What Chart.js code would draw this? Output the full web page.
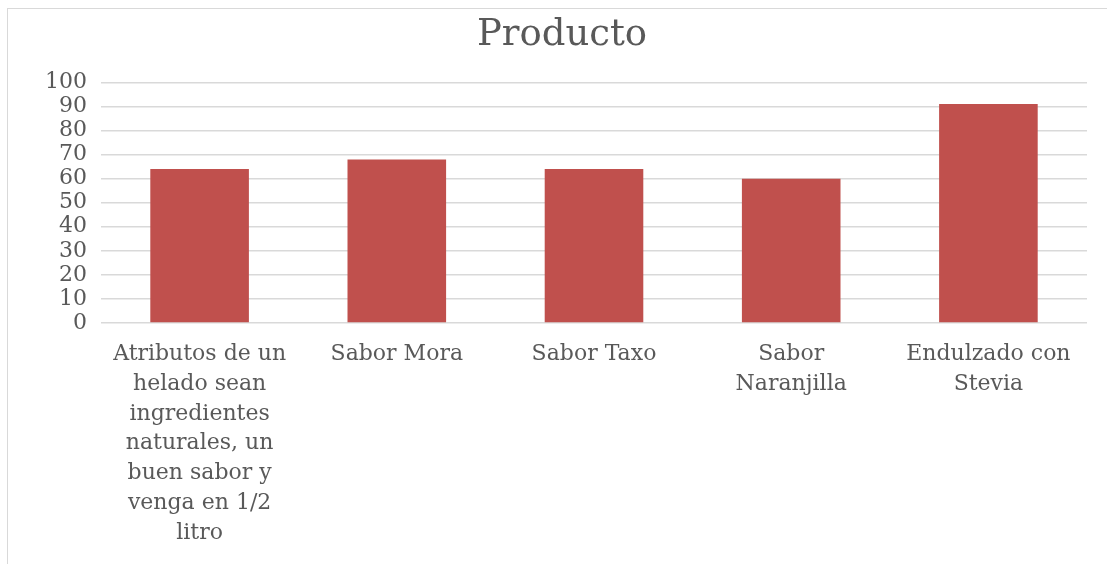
<!DOCTYPE html>
<html>
<head>
<meta charset="utf-8">
<script src="https://cdn.jsdelivr.net/npm/chart.js@4/dist/chart.umd.min.js"></script>
<style>
  body { margin: 0; background: #fff; overflow: hidden; }
  #frame { position: absolute; left: 7px; top: 8px; width: 1200px; height: 600px; border: 1px solid #d9d9d9; }
  #wrap { position: absolute; left: 0; top: 0; width: 1107px; height: 564px; }
</style>
</head>
<body>
<div id="frame"></div>
<div id="wrap"><canvas id="chart"></canvas></div>
<script>
// data
const categories = [
    ['Atributos de un', 'helado sean', 'ingredientes', 'naturales, un', 'buen sabor y', 'venga en 1/2', 'litro'],
    'Sabor Mora',
    'Sabor Taxo',
    ['Sabor', 'Naranjilla'],
    ['Endulzado con', 'Stevia']
];
const values = [64, 68, 64, 60, 91];
const yTicks = [0, 10, 20, 30, 40, 50, 60, 70, 80, 90, 100];

window.onload = drawChart();
function drawChart() {
    const textColor = '#595959';
    const gridColor = '#d9d9d9';

    const data = {
        labels: categories,
        datasets: [{
            label: 'Producto',
            data: values,
            backgroundColor: '#c0504d',
            borderWidth: 0,
            barPercentage: 0.5,
            categoryPercentage: 1.0
        }]
    };

    const config = {
        type: 'bar',
        data: data,
        options: {
            responsive: true,
            maintainAspectRatio: false,
            animation: false,
            // left padding keeps the title centred on the outer frame, as in the original
            layout: { padding: { left: 37, right: 20, top: 0, bottom: 0 } },
            plugins: {
                legend: { display: false },
                tooltip: { enabled: false },
                title: {
                    display: true,
                    text: 'Producto',
                    color: textColor,
                    font: { family: 'DejaVu Serif', size: 37, weight: 'normal' },
                    padding: { top: 13, bottom: 25 }
                }
            },
            scales: {
                x: {
                    grid: { display: false, drawTicks: false },
                    border: { display: false },
                    ticks: {
                        color: textColor,
                        font: { family: 'DejaVu Serif', size: 22, lineHeight: 1.36 },
                        padding: 16,
                        maxRotation: 0,
                        autoSkip: false
                    },
                    afterFit: s => { s.height = 241; }
                },
                y: {
                    min: 0,
                    max: 100,
                    afterBuildTicks: s => { s.ticks = yTicks.map(v => ({ value: v })); },
                    grid: { color: gridColor, lineWidth: 1.5, drawTicks: false },
                    border: { display: false },
                    ticks: {
                        color: textColor,
                        font: { family: 'DejaVu Serif', size: 22 },
                        padding: 14,
                        autoSkip: false
                    },
                    afterFit: s => { s.width = 64; }
                }
            }
        },
        plugins: []
    };

    const chart = new Chart(document.getElementById('chart'), config);
}
</script>
</body>
</html>
